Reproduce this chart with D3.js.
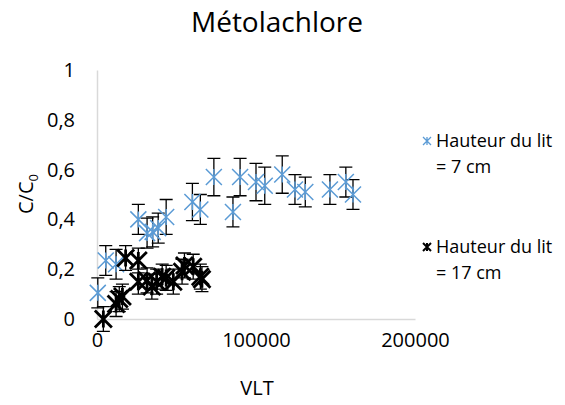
<!DOCTYPE html>
<html><head><meta charset="utf-8">
<script src="https://cdn.jsdelivr.net/npm/d3@7"></script>
<style>body{margin:0;background:#fff}svg{display:block}text{font-family:"Open Sans",sans-serif;fill:#000}</style>
</head><body>
<script>
const title = "Métolachlore";
const xTicks = [0, 100000, 200000];
const yTicks = [0, 0.2, 0.4, 0.6, 0.8, 1];
const series1Name = ["Hauteur du lit", "= 7 cm"];
const series2Name = ["Hauteur du lit", "= 17 cm"];
// series 1 (bed height 7 cm): VLT, C/C0, error
const s1x = [500, 5500, 12000, 26000, 31500, 35000, 38500, 43500, 60000, 65000, 73500, 85500, 90000, 100000, 105500, 116500, 124500, 131000, 146500, 156500, 161000];
const s1y = [0.105, 0.235, 0.22, 0.40, 0.345, 0.35, 0.365, 0.41, 0.47, 0.44, 0.57, 0.43, 0.57, 0.55, 0.535, 0.58, 0.52, 0.51, 0.52, 0.55, 0.50];
const s1e = [0.06, 0.06, 0.06, 0.06, 0.06, 0.06, 0.06, 0.07, 0.075, 0.06, 0.075, 0.06, 0.075, 0.075, 0.075, 0.075, 0.06, 0.06, 0.06, 0.06, 0.06];
// series 2 (bed height 17 cm)
const s2x = [4000, 12000, 14000, 16000, 18000, 26000, 26000, 31500, 34500, 37500, 41000, 43500, 48000, 53500, 55000, 60500, 65000, 66000];
const s2y = [0.0, 0.06, 0.08, 0.09, 0.245, 0.235, 0.15, 0.155, 0.13, 0.15, 0.17, 0.165, 0.15, 0.19, 0.215, 0.21, 0.17, 0.16];
const s2e = [0.05, 0.05, 0.05, 0.05, 0.05, 0.05, 0.05, 0.05, 0.05, 0.05, 0.05, 0.05, 0.05, 0.05, 0.05, 0.05, 0.05, 0.05];

const W = 565, H = 405;
const svg = d3.select("body").append("svg").attr("width", W).attr("height", H);
const x = d3.scaleLinear().domain([0, 200000]).range([97, 415]);
const y = d3.scaleLinear().domain([0, 1]).range([319, 70]);
const fmt = v => String(v).replace(".", ",");

svg.append("text").attr("x", 277).attr("y", 32).attr("text-anchor", "middle")
  .style("font-size", "28px").text(title);

// axes
const xAxis = svg.append("g").attr("transform", "translate(0,319)")
  .call(d3.axisBottom(x).tickValues(xTicks).tickSize(0).tickPadding(14).tickFormat(d => String(d)));
xAxis.select(".domain").attr("stroke", "#d9d9d9").attr("stroke-width", 1.5);
xAxis.selectAll("text").style("font-size", "20px").style("font-family", '"Open Sans",sans-serif');
const yAxis = svg.append("g").attr("transform", "translate(97,0)")
  .call(d3.axisLeft(y).tickValues(yTicks).tickSize(0).tickPadding(22).tickFormat(fmt));
yAxis.select(".domain").attr("stroke", "#d9d9d9").attr("stroke-width", 1.5);
yAxis.selectAll("text").style("font-size", "20px").style("font-family", '"Open Sans",sans-serif');

svg.append("text").attr("x", 257).attr("y", 395).attr("text-anchor", "middle")
  .style("font-size", "20px").text("VLT");
const yt = svg.append("text").attr("transform", "translate(33,194) rotate(-90)")
  .attr("text-anchor", "middle").style("font-size", "20px");
yt.append("tspan").text("C/C");
yt.append("tspan").attr("dy", 5).style("font-size", "13px").text("0");

function star(g, cx, cy, r, color, sw) {
  const p = `M${cx - r},${cy - r}L${cx + r},${cy + r}M${cx - r},${cy + r}L${cx + r},${cy - r}M${cx},${cy - r}L${cx},${cy + r}`;
  g.append("path").attr("d", p).attr("stroke", color).attr("stroke-width", sw).attr("fill", "none");
}
function drawSeries(xs, ys, es, color, r, sw) {
  const g = svg.append("g");
  xs.forEach((xv, i) => {
    const cx = x(xv), y1 = y(ys[i] + es[i]), y0 = y(ys[i] - es[i]);
    g.append("path").attr("d", `M${cx},${y0}L${cx},${y1}M${cx - 6.5},${y1}L${cx + 6.5},${y1}M${cx - 6.5},${y0}L${cx + 6.5},${y0}`)
      .attr("stroke", "#000").attr("stroke-width", 1.3).attr("fill", "none");
  });
  xs.forEach((xv, i) => star(g, x(xv), y(ys[i]), r, color, sw));
}
drawSeries(s1x, s1y, s1e, "#5b9bd5", 8, 1.5);
drawSeries(s2x, s2y, s2e, "#000", 8.5, 2.8);

// legend
const lg = svg.append("g");
star(lg, 427, 141, 4, "#5b9bd5", 1.3);
lg.append("text").attr("x", 436).attr("y", 147).style("font-size", "18px").text(series1Name[0]);
lg.append("text").attr("x", 436).attr("y", 173).style("font-size", "18px").text(series1Name[1]);
star(lg, 427, 247, 4, "#000", 2);
lg.append("text").attr("x", 436).attr("y", 253).style("font-size", "18px").text(series2Name[0]);
lg.append("text").attr("x", 436).attr("y", 279).style("font-size", "18px").text(series2Name[1]);
</script>
</body></html>
